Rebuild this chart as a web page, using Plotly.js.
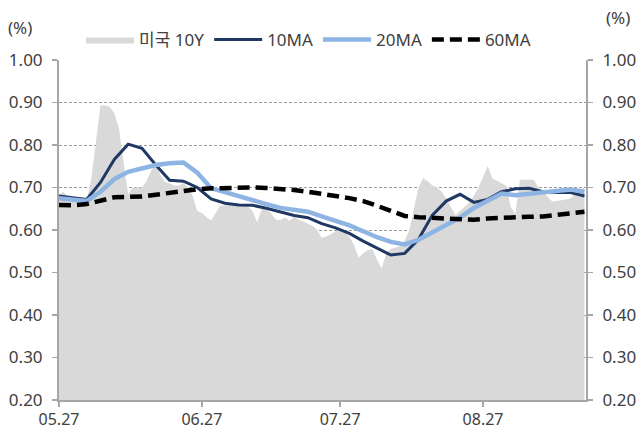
<!DOCTYPE html>
<html><head><meta charset="utf-8">
<script src="https://cdn.plot.ly/plotly-3.0.1.min.js"></script>
<style>html,body{margin:0;padding:0;background:#fff}#chart{width:638px;height:429px}</style>
</head><body><div id="chart"></div>
<script>
// Daily calendar dates (2020) for US 10Y
const dailyDates = [
'05-27','05-28','05-29','05-30','05-31',
'06-01','06-02','06-03','06-04','06-05','06-06','06-07','06-08','06-09','06-10','06-11','06-12','06-13','06-14',
'06-15','06-16','06-17','06-18','06-19','06-20','06-21','06-22','06-23','06-24','06-25','06-26','06-27','06-28',
'06-29','06-30','07-01','07-02','07-03','07-04','07-05','07-06','07-07','07-08','07-09','07-10','07-11','07-12',
'07-13','07-14','07-15','07-16','07-17','07-18','07-19','07-20','07-21','07-22','07-23','07-24','07-25','07-26',
'07-27','07-28','07-29','07-30','07-31','08-01','08-02','08-03','08-04','08-05','08-06','08-07','08-08','08-09',
'08-10','08-11','08-12','08-13','08-14','08-15','08-16','08-17','08-18','08-19','08-20','08-21','08-22','08-23',
'08-24','08-25','08-26','08-27','08-28','08-29','08-30','08-31','09-01','09-02','09-03','09-04','09-05','09-06',
'09-07','09-08','09-09','09-10','09-11','09-12','09-13','09-14','09-15','09-16','09-17','09-18'
];
const us10y = [
0.682,0.690,0.675,0.675,0.675,
0.668,0.668,0.720,0.810,0.893,0.893,0.890,0.875,0.840,0.760,0.685,0.700,0.700,0.700,
0.715,0.740,0.755,0.730,0.713,0.710,0.705,0.705,0.710,0.700,0.680,0.645,0.640,0.630,
0.623,0.640,0.657,0.658,0.658,0.658,0.658,0.660,0.655,0.645,0.618,0.650,0.648,0.640,
0.625,0.623,0.630,0.622,0.630,0.625,0.620,0.615,0.610,0.600,0.582,0.585,0.590,0.597,
0.598,0.595,0.585,0.565,0.535,0.545,0.553,0.555,0.530,0.510,0.545,0.555,0.558,0.562,
0.575,0.600,0.650,0.700,0.722,0.715,0.705,0.700,0.690,0.675,0.655,0.635,0.645,0.655,
0.665,0.680,0.700,0.725,0.751,0.722,0.715,0.710,0.705,0.655,0.638,0.718,0.718,0.718,
0.718,0.700,0.690,0.678,0.667,0.668,0.670,0.672,0.675,0.685,0.694,0.700
];
// Moving-average sample dates (2020)
const maDates = [
'05-27','05-30','06-02','06-05','06-08','06-11','06-14','06-17','06-20','06-23','06-26','06-29','07-02',
'07-05','07-08','07-11','07-14','07-17','07-20','07-23','07-26','07-29','08-01','08-04','08-07','08-10',
'08-13','08-16','08-19','08-22','08-25','08-28','08-31','09-03','09-06','09-09','09-12','09-15','09-18'
];
const ma10 = [
0.680,0.676,0.672,0.712,0.766,0.802,0.792,0.753,0.717,0.715,0.700,0.673,0.663,
0.659,0.658,0.651,0.643,0.634,0.629,0.615,0.605,0.592,0.574,0.557,0.541,0.545,
0.578,0.635,0.668,0.684,0.665,0.672,0.690,0.697,0.698,0.690,0.688,0.688,0.680
];
const ma20 = [
0.675,0.672,0.668,0.690,0.720,0.737,0.744,0.753,0.757,0.759,0.735,0.698,0.689,
0.679,0.670,0.661,0.652,0.647,0.643,0.632,0.621,0.611,0.597,0.583,0.572,0.566,
0.577,0.595,0.611,0.629,0.652,0.670,0.686,0.682,0.685,0.689,0.693,0.695,0.690
];
const ma60 = [
0.659,0.658,0.661,0.670,0.677,0.678,0.679,0.683,0.687,0.693,0.696,0.698,0.699,
0.700,0.700,0.699,0.697,0.694,0.690,0.686,0.680,0.675,0.668,0.657,0.644,0.633,
0.630,0.628,0.627,0.624,0.624,0.627,0.629,0.630,0.631,0.632,0.635,0.639,0.643
];
const xTickVals = ['2020-05-27','2020-06-27','2020-07-27','2020-08-27'];
const xTickText = ['05.27','06.27','07.27','08.27'];
const names = ['미국 10Y','10MA','20MA','60MA'];

const fd = d => '2020-' + d;
const FONT = 'Noto Sans, Noto Sans CJK KR, sans-serif';
const TXT = '#404040';

const traces = [
  {x: dailyDates.map(fd), y: us10y, name: names[0], type: 'scatter', mode: 'lines',
   fill: 'tozeroy', fillcolor: '#d9d9d9', line: {width: 0, color: '#d9d9d9'}, hoverinfo: 'skip'},
  {x: maDates.map(fd), y: ma10, name: names[1], type: 'scatter', mode: 'lines',
   line: {color: '#1f3864', width: 3}},
  {x: maDates.map(fd), y: ma20, name: names[2], type: 'scatter', mode: 'lines',
   line: {color: '#8db4e3', width: 4.5}},
  {x: maDates.map(fd), y: ma60, name: names[3], type: 'scatter', mode: 'lines', yaxis: 'y2',
   line: {color: '#000000', width: 4.5, dash: '12px,6px'}}
];

const axColor = '#a6a6a6';
const yCommon = {
  range: [0.2, 1.0], dtick: 0.1, tick0: 0.2, tickformat: '.2f',
  ticks: 'outside', ticklen: 5, tickwidth: 1.5, tickcolor: axColor,
  showline: true, linecolor: axColor, linewidth: 2,
  tickfont: {family: FONT, size: 17, color: TXT},
  ticklabelstandoff: 6, zeroline: false, fixedrange: true
};

const layout = {
  width: 638, height: 429,
  margin: {l: 59, r: 52, t: 60, b: 29},
  paper_bgcolor: '#ffffff', plot_bgcolor: '#ffffff',
  font: {family: FONT, size: 17, color: TXT},
  showlegend: true,
  legend: {orientation: 'h', xref: 'container', yref: 'container', x: 81/638, y: 1 - 40/429,
           xanchor: 'left', yanchor: 'middle', itemwidth: 48, font: {family: FONT, size: 17, color: TXT},
           bgcolor: 'rgba(0,0,0,0)', traceorder: 'normal'},
  xaxis: {
    type: 'date', range: ['2020-05-27', '2020-09-18 08:00'],
    tickvals: xTickVals, ticktext: xTickText,
    ticks: 'outside', ticklen: 5, tickwidth: 1.5, tickcolor: axColor,
    showline: true, linecolor: axColor, linewidth: 2, showgrid: false, zeroline: false,
    tickfont: {family: FONT, size: 16, color: TXT}, ticklabelstandoff: -1, fixedrange: true
  },
  yaxis: Object.assign({}, yCommon, {side: 'left', showgrid: true, gridcolor: '#9a9a9a', gridwidth: 1, griddash: '3px,2px'}),
  yaxis2: Object.assign({}, yCommon, {side: 'right', overlaying: 'y', showgrid: false}),
  annotations: [
    {text: '(%)', xref: 'paper', yref: 'paper', x: -0.1, y: 1.095, xanchor: 'left', yanchor: 'middle', showarrow: false,
     font: {family: FONT, size: 17, color: TXT}},
    {text: '(%)', xref: 'paper', yref: 'paper', x: 1.087, y: 1.126, xanchor: 'right', yanchor: 'middle', showarrow: false,
     font: {family: FONT, size: 17, color: TXT}}
  ]
};

Plotly.newPlot('chart', traces, layout, {displayModeBar: false, staticPlot: true});
</script></body></html>
